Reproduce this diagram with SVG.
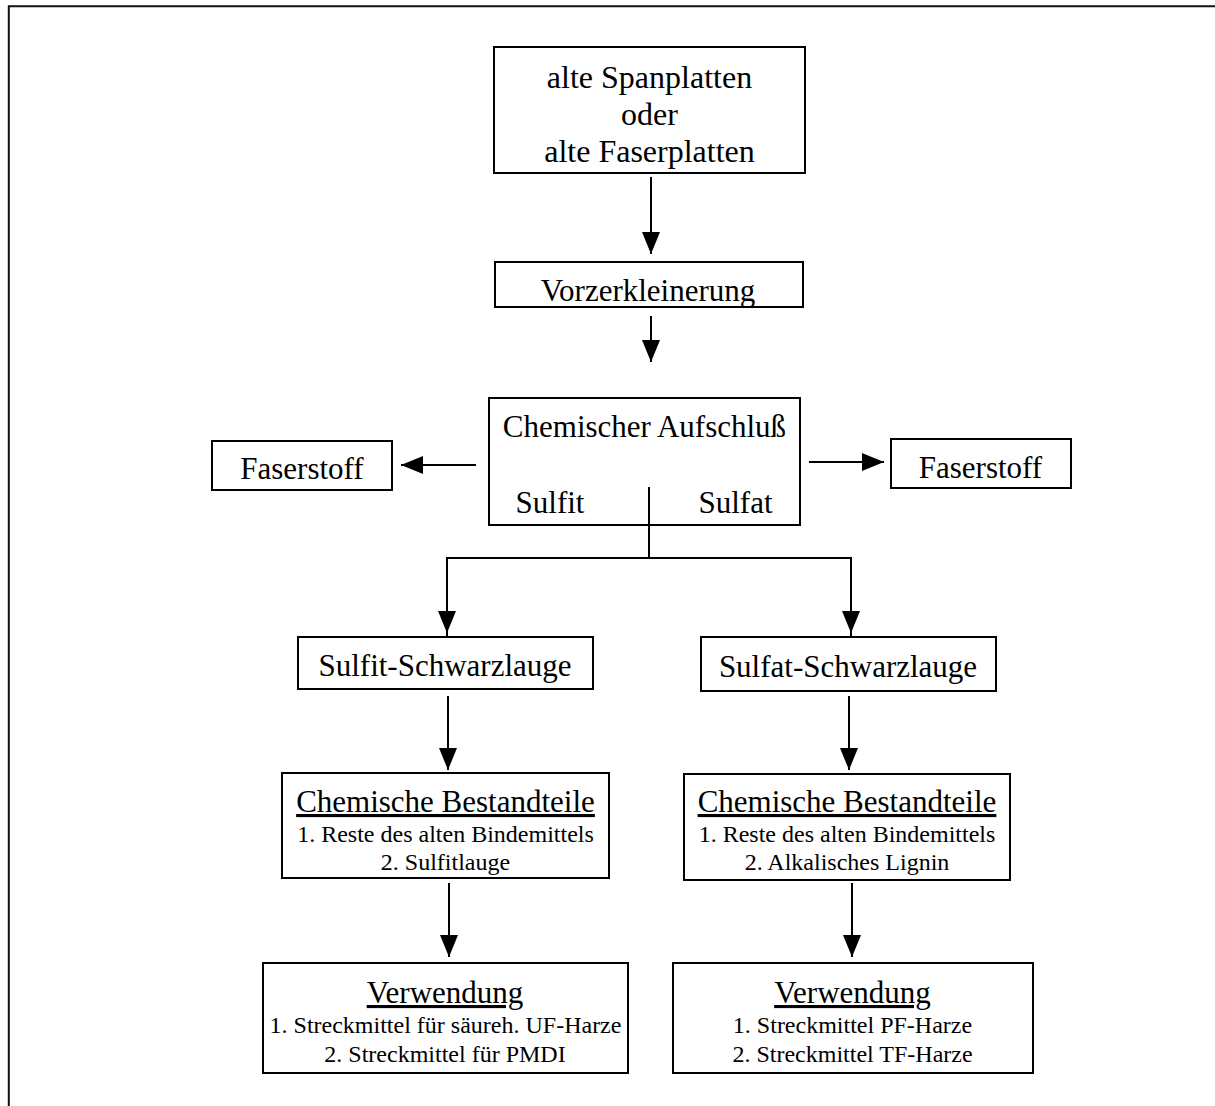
<svg xmlns="http://www.w3.org/2000/svg" width="1215" height="1106" viewBox="0 0 1215 1106">
<style>
.box{fill:#fff;stroke:#000;stroke-width:2}
.t{font-family:"Liberation Serif","Times New Roman",serif;fill:#000;text-anchor:middle}
.big{font-size:31px}
.small{font-size:24px}
.con{fill:none;stroke:#000;stroke-width:2}
.frame{fill:none;stroke:#111;stroke-width:2}
</style>
<defs>
<marker id="ah" viewBox="0 0 22 18" refX="22" refY="9" markerWidth="22" markerHeight="18" markerUnits="userSpaceOnUse" orient="auto">
<path d="M0,0 L22,9 L0,18 z" fill="#000"/>
</marker>
<clipPath id="cvz"><rect x="495" y="262" width="308" height="44"/></clipPath>
</defs>
<rect width="1215" height="1106" fill="#fff"/>
<path class="frame" d="M8.8,1106 V6.3 H1215"/>

<g id="n-platten">
<rect class="box" x="494" y="47" width="311" height="126"/>
<text class="t" style="font-size:32px" x="649.5" y="88">alte Spanplatten</text>
<text class="t" style="font-size:32px" x="649.5" y="125">oder</text>
<text class="t" style="font-size:32px" x="649.5" y="162">alte Faserplatten</text>
</g>

<g id="n-vorzerkleinerung">
<rect class="box" x="495" y="262" width="308" height="45"/>
<text class="t big" x="648" y="301" clip-path="url(#cvz)">Vorzerkleinerung</text>
</g>

<g id="n-aufschluss">
<rect class="box" x="489" y="398" width="311" height="127"/>
<text class="t big" x="644.5" y="437">Chemischer Aufschluß</text>
<text class="t big" x="550" y="513">Sulfit</text>
<text class="t big" x="735.5" y="513">Sulfat</text>
</g>

<g id="n-faser-links">
<rect class="box" x="212" y="441" width="180" height="49"/>
<text class="t big" x="302" y="479">Faserstoff</text>
</g>

<g id="n-faser-rechts">
<rect class="box" x="891" y="439" width="180" height="49"/>
<text class="t big" x="980.5" y="478">Faserstoff</text>
</g>

<g id="n-sulfit-lauge">
<rect class="box" x="298" y="637" width="295" height="52"/>
<text class="t big" x="445" y="676">Sulfit-Schwarzlauge</text>
</g>

<g id="n-sulfat-lauge">
<rect class="box" x="701" y="637" width="295" height="54"/>
<text class="t big" x="848" y="677">Sulfat-Schwarzlauge</text>
</g>

<g id="n-best-links">
<rect class="box" x="282" y="773" width="327" height="105"/>
<text class="t big" x="445.5" y="812" text-decoration="underline">Chemische Bestandteile</text>
<text class="t small" x="445.5" y="842">1. Reste des alten Bindemittels</text>
<text class="t small" x="445.5" y="870">2. Sulfitlauge</text>
</g>

<g id="n-best-rechts">
<rect class="box" x="684" y="774" width="326" height="106"/>
<text class="t big" x="847" y="812" text-decoration="underline">Chemische Bestandteile</text>
<text class="t small" x="847" y="842">1. Reste des alten Bindemittels</text>
<text class="t small" x="847" y="870">2. Alkalisches Lignin</text>
</g>

<g id="n-verw-links">
<rect class="box" x="263" y="963" width="365" height="110"/>
<text class="t big" x="445" y="1003" text-decoration="underline">Verwendung</text>
<text class="t small" x="445.5" y="1033">1. Streckmittel für säureh. UF-Harze</text>
<text class="t small" x="445" y="1062">2. Streckmittel für PMDI</text>
</g>

<g id="n-verw-rechts">
<rect class="box" x="673" y="963" width="360" height="110"/>
<text class="t big" x="852.5" y="1003" text-decoration="underline">Verwendung</text>
<text class="t small" x="852.5" y="1033">1. Streckmittel PF-Harze</text>
<text class="t small" x="852.5" y="1062">2. Streckmittel TF-Harze</text>
</g>

<g id="connectors">
<line class="con" x1="651" y1="177" x2="651" y2="254" marker-end="url(#ah)"/>
<line class="con" x1="651" y1="316" x2="651" y2="362" marker-end="url(#ah)"/>
<line class="con" x1="476" y1="465" x2="401" y2="465" marker-end="url(#ah)"/>
<line class="con" x1="809" y1="462" x2="884" y2="462" marker-end="url(#ah)"/>
<path class="con" d="M649,487 V558"/>
<path class="con" d="M447,637 V558 H851 V637" marker-start="none"/>
<line class="con" x1="447" y1="560" x2="447" y2="633" marker-end="url(#ah)"/>
<line class="con" x1="851" y1="560" x2="851" y2="633" marker-end="url(#ah)"/>
<line class="con" x1="448" y1="696" x2="448" y2="770" marker-end="url(#ah)"/>
<line class="con" x1="849" y1="696" x2="849" y2="770" marker-end="url(#ah)"/>
<line class="con" x1="449" y1="883" x2="449" y2="957" marker-end="url(#ah)"/>
<line class="con" x1="852" y1="883" x2="852" y2="957" marker-end="url(#ah)"/>
</g>
</svg>
